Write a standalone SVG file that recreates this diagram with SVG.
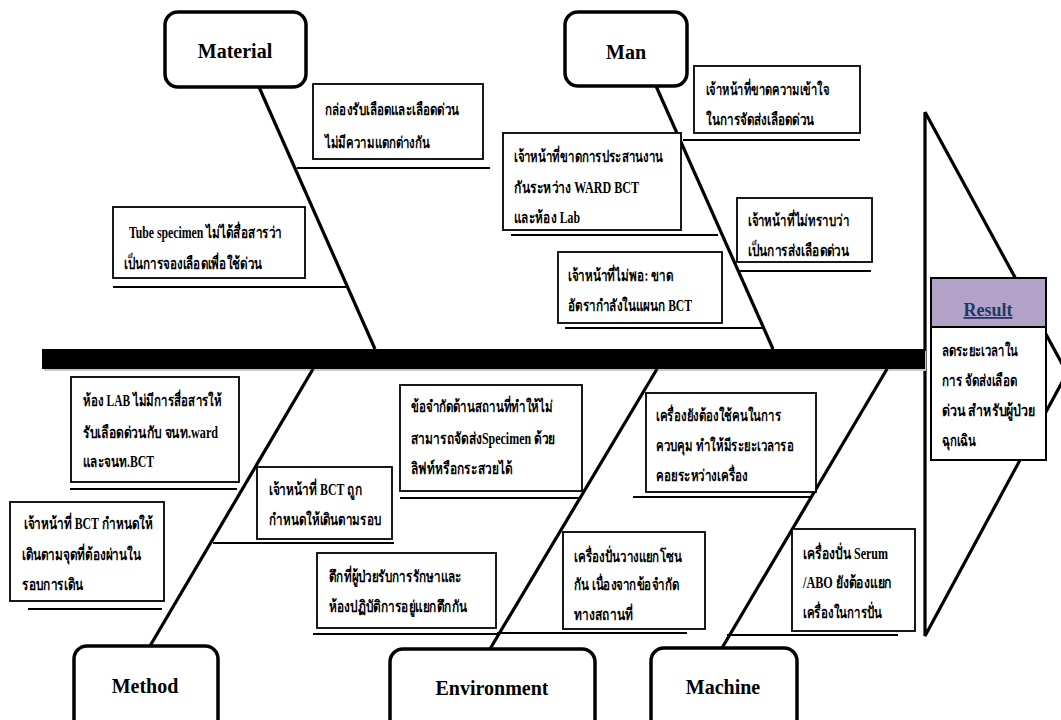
<svg xmlns="http://www.w3.org/2000/svg" width="1061" height="720" viewBox="0 0 1061 720">
<style>
.bg{fill:#ffffff}
.node{fill:#ffffff;stroke:#000000;stroke-width:3.5}
.nodet{font-family:"Liberation Serif","Times New Roman",serif;font-weight:bold;font-size:20px;fill:#000000;text-anchor:middle}
.box{fill:#ffffff;stroke:#000000;stroke-width:1.8}
.sub{stroke:#000000;stroke-width:2;fill:none}
.bone{stroke:#000000;stroke-width:3.2;fill:none;stroke-linecap:butt}
.t{font-family:"Liberation Serif","Noto Sans","DejaVu Sans",serif;font-weight:bold;font-size:16px;fill:#000000}
</style>
<rect class="bg" x="0" y="0" width="1061" height="720"/>

<g id="head">
<polyline points="925,112 1067,373 925,636 925,112" fill="none" stroke="#000000" stroke-width="3.2" stroke-linejoin="miter"/>
</g>

<g id="spine">
<rect x="44" y="351" width="882" height="20" fill="#c8c8c8"/>
<rect x="42" y="349" width="883" height="20" fill="#000000"/>
</g>

<g id="connectors">
<line class="bone" x1="259" y1="87" x2="375" y2="349"/>
<line class="bone" x1="656" y1="86" x2="773" y2="349"/>
<line class="bone" x1="313" y1="369" x2="150" y2="646"/>
<line class="bone" x1="657" y1="369" x2="490" y2="649"/>
<line class="bone" x1="887" y1="369" x2="722" y2="648"/>
</g>

<g id="material">
<rect class="node" x="165" y="12" width="141" height="75" rx="13"/>
<text class="nodet" x="235" y="58">Material</text>
</g>
<g id="man">
<rect class="node" x="565" y="12" width="122" height="74" rx="13"/>
<text class="nodet" x="626" y="59">Man</text>
</g>
<g id="method">
<rect class="node" x="74" y="646" width="144" height="90" rx="13"/>
<text class="nodet" x="145" y="693">Method</text>
</g>
<g id="environment">
<rect class="node" x="390" y="649" width="205" height="90" rx="13"/>
<text class="nodet" x="492" y="695">Environment</text>
</g>
<g id="machine">
<rect class="node" x="651" y="648" width="146" height="90" rx="13"/>
<text class="nodet" x="723" y="694">Machine</text>
</g>

<g id="mat1">
<line class="sub" x1="297" y1="168" x2="490" y2="168"/>
<rect class="box" x="313" y="84" width="170" height="75"/>
<text class="t" x="325" y="115" textLength="134" lengthAdjust="spacingAndGlyphs">กล่องรับเลือดและเลือดด่วน</text>
<text class="t" x="325" y="148" textLength="105" lengthAdjust="spacingAndGlyphs">ไม่มีความแตกต่างกัน</text>
</g>
<g id="mat2">
<line class="sub" x1="113" y1="287" x2="348" y2="287"/>
<rect class="box" x="113" y="207" width="192" height="71"/>
<text class="t" x="129" y="238" textLength="153" lengthAdjust="spacingAndGlyphs">Tube specimen ไม่ได้สื่อสารว่า</text>
<text class="t" x="124" y="269" textLength="138" lengthAdjust="spacingAndGlyphs">เป็นการจองเลือดเพื่อใช้ด่วน</text>
</g>

<g id="man1">
<line class="sub" x1="683" y1="140" x2="860" y2="140"/>
<rect class="box" x="694" y="66" width="166" height="67"/>
<text class="t" x="706" y="95" textLength="123" lengthAdjust="spacingAndGlyphs">เจ้าหน้าที่ขาดความเข้าใจ</text>
<text class="t" x="706" y="125" textLength="108" lengthAdjust="spacingAndGlyphs">ในการจัดส่งเลือดด่วน</text>
</g>
<g id="man2">
<line class="sub" x1="511" y1="235" x2="718" y2="235"/>
<rect class="box" x="503" y="133" width="178" height="97"/>
<text class="t" x="514" y="162" textLength="149" lengthAdjust="spacingAndGlyphs">เจ้าหน้าที่ขาดการประสานงาน</text>
<text class="t" x="514" y="193" textLength="125" lengthAdjust="spacingAndGlyphs">กันระหว่าง WARD BCT</text>
<text class="t" x="514" y="223" textLength="66" lengthAdjust="spacingAndGlyphs">และห้อง Lab</text>
</g>
<g id="man3">
<line class="sub" x1="737" y1="271" x2="871" y2="271"/>
<rect class="box" x="737" y="198" width="135" height="64"/>
<text class="t" x="748" y="226" textLength="101" lengthAdjust="spacingAndGlyphs">เจ้าหน้าที่ไม่ทราบว่า</text>
<text class="t" x="748" y="256" textLength="101" lengthAdjust="spacingAndGlyphs">เป็นการส่งเลือดด่วน</text>
</g>
<g id="man4">
<line class="sub" x1="565" y1="328" x2="764" y2="328"/>
<rect class="box" x="558" y="252" width="164" height="71"/>
<text class="t" x="568" y="281" textLength="105" lengthAdjust="spacingAndGlyphs">เจ้าหน้าที่ไม่พอ: ขาด</text>
<text class="t" x="568" y="311" textLength="124" lengthAdjust="spacingAndGlyphs">อัตรากำลังในแผนก BCT</text>
</g>

<g id="met1">
<line class="sub" x1="70" y1="489" x2="237" y2="489"/>
<rect class="box" x="71" y="377" width="168" height="105"/>
<text class="t" x="83" y="406" textLength="139" lengthAdjust="spacingAndGlyphs">ห้อง LAB ไม่มีการสื่อสารให้</text>
<text class="t" x="83" y="438" textLength="135" lengthAdjust="spacingAndGlyphs">รับเลือดด่วนกับ จนท.ward</text>
<text class="t" x="83" y="467" textLength="71" lengthAdjust="spacingAndGlyphs">และจนท.BCT</text>
</g>
<g id="met2">
<line class="sub" x1="28" y1="609" x2="162" y2="609"/>
<rect class="box" x="10" y="502" width="154" height="99"/>
<text class="t" x="24" y="529" textLength="129" lengthAdjust="spacingAndGlyphs">เจ้าหน้าที่ BCT กำหนดให้</text>
<text class="t" x="22" y="560" textLength="119" lengthAdjust="spacingAndGlyphs">เดินตามจุดที่ต้องผ่านใน</text>
<text class="t" x="22" y="590" textLength="61" lengthAdjust="spacingAndGlyphs">รอบการเดิน</text>
</g>
<g id="met3">
<line class="sub" x1="213" y1="543" x2="394" y2="543"/>
<rect class="box" x="257" y="467" width="135" height="72"/>
<text class="t" x="269" y="495" textLength="93" lengthAdjust="spacingAndGlyphs">เจ้าหน้าที่ BCT ถูก</text>
<text class="t" x="269" y="525" textLength="112" lengthAdjust="spacingAndGlyphs">กำหนดให้เดินตามรอบ</text>
</g>

<g id="env1">
<line class="sub" x1="400" y1="498" x2="580" y2="498"/>
<rect class="box" x="400" y="385" width="182" height="106"/>
<text class="t" x="411" y="412" textLength="142" lengthAdjust="spacingAndGlyphs">ข้อจำกัดด้านสถานที่ทำให้ไม่</text>
<text class="t" x="411" y="444" textLength="144" lengthAdjust="spacingAndGlyphs">สามารถจัดส่งSpecimen ด้วย</text>
<text class="t" x="411" y="474" textLength="101" lengthAdjust="spacingAndGlyphs">ลิฟท์หรือกระสวยได้</text>
</g>
<g id="env2">
<line class="sub" x1="313" y1="634" x2="497" y2="634"/>
<rect class="box" x="317" y="553" width="179" height="75"/>
<text class="t" x="329" y="582" textLength="133" lengthAdjust="spacingAndGlyphs">ตึกที่ผู้ป่วยรับการรักษาและ</text>
<text class="t" x="329" y="612" textLength="138" lengthAdjust="spacingAndGlyphs">ห้องปฏิบัติการอยู่แยกตึกกัน</text>
</g>

<g id="mac1">
<line class="sub" x1="633" y1="497" x2="812" y2="497"/>
<rect class="box" x="646" y="393" width="170" height="99"/>
<text class="t" x="656" y="421" textLength="125" lengthAdjust="spacingAndGlyphs">เครื่องยังต้องใช้คนในการ</text>
<text class="t" x="656" y="451" textLength="138" lengthAdjust="spacingAndGlyphs">ควบคุม ทำให้มีระยะเวลารอ</text>
<text class="t" x="656" y="481" textLength="92" lengthAdjust="spacingAndGlyphs">คอยระหว่างเครื่อง</text>
</g>
<g id="mac2">
<line class="sub" x1="497" y1="633" x2="687" y2="633"/>
<rect class="box" x="563" y="532" width="142" height="97"/>
<text class="t" x="574" y="562" textLength="108" lengthAdjust="spacingAndGlyphs">เครื่องปั่นวางแยกโซน</text>
<text class="t" x="574" y="590" textLength="105" lengthAdjust="spacingAndGlyphs">กัน เนื่องจากข้อจำกัด</text>
<text class="t" x="574" y="620" textLength="59" lengthAdjust="spacingAndGlyphs">ทางสถานที่</text>
</g>
<g id="mac3">
<line class="sub" x1="727" y1="635" x2="898" y2="635"/>
<rect class="box" x="792" y="529" width="123" height="102"/>
<text class="t" x="803" y="559" textLength="85" lengthAdjust="spacingAndGlyphs">เครื่องปั่น Serum</text>
<text class="t" x="803" y="588" textLength="89" lengthAdjust="spacingAndGlyphs">/ABO ยังต้องแยก</text>
<text class="t" x="803" y="618" textLength="79" lengthAdjust="spacingAndGlyphs">เครื่องในการปั่น</text>
</g>

<g id="result">
<rect x="931" y="278" width="115" height="182" fill="#ffffff" stroke="#000000" stroke-width="2"/>
<rect x="931" y="278" width="115" height="49" fill="#b3a2c7" stroke="#000000" stroke-width="2"/>
<text x="988" y="316" font-family="Liberation Serif, serif" font-weight="bold" font-size="18" fill="#1f3864" text-anchor="middle" text-decoration="underline">Result</text>
<text class="t" x="942" y="356" textLength="76" lengthAdjust="spacingAndGlyphs">ลดระยะเวลาใน</text>
<text class="t" x="942" y="386" textLength="75" lengthAdjust="spacingAndGlyphs">การ จัดส่งเลือด</text>
<text class="t" x="942" y="416" textLength="93" lengthAdjust="spacingAndGlyphs">ด่วน สำหรับผู้ป่วย</text>
<text class="t" x="942" y="446" textLength="34" lengthAdjust="spacingAndGlyphs">ฉุกเฉิน</text>
</g>
</svg>
